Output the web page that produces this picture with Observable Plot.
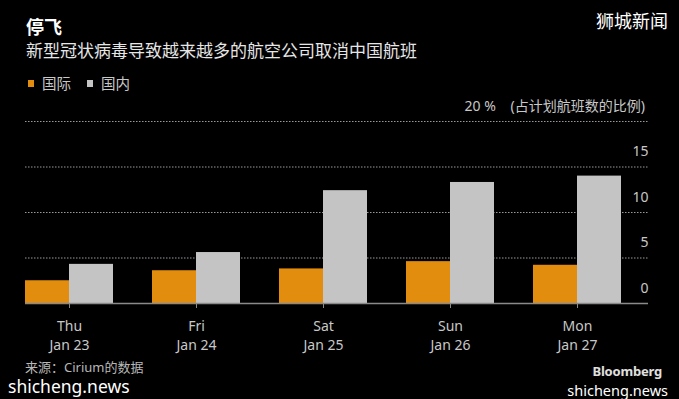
<!DOCTYPE html>
<html>
<head>
<meta charset="utf-8">
<script src="https://cdn.jsdelivr.net/npm/d3@7"></script>
<script src="https://cdn.jsdelivr.net/npm/@observablehq/plot@0.6"></script>
<style>
  html, body { margin: 0; padding: 0; background: #000; }
  #root { position: relative; width: 679px; height: 399px; overflow: hidden; background: #000;
          font-family: "Noto Sans", "Noto Sans CJK SC", sans-serif; }
  .abs { position: absolute; white-space: nowrap; line-height: 1; }
  #title { left: 26px; top: 18px; font-size: 18px; font-weight: bold; color: #fff; }
  #subtitle { left: 26px; top: 42px; font-size: 17px; color: #e6e6e6; }
  #brand { right: 11px; top: 12px; font-size: 18px; color: #fff; }
  #legend { left: 28px; top: 76px; font-size: 14.5px; color: #c8c8c8; display: flex; align-items: center; }
  #legend .sw { display: inline-block; width: 6px; height: 7px; margin-right: 8px; }
  #legend .item { display: flex; align-items: center; margin-right: 16px; }
  #chart { position: absolute; left: 0; top: 95px; }
  #source { left: 25px; top: 361px; font-size: 13px; color: #b8b8b8; }
  #wm1 { left: 8px; top: 378px; font-size: 17.5px; color: #fff; }
  #bb { right: 17px; top: 365px; font-size: 13px; font-weight: bold; color: #e0e0e0; letter-spacing: -0.2px; }
  #wm2 { right: 11px; top: 383px; font-size: 14.5px; color: #fff; }
</style>
</head>
<body>
<div id="root">
  <div id="title" class="abs">停飞</div>
  <div id="subtitle" class="abs">新型冠状病毒导致越来越多的航空公司取消中国航班</div>
  <div id="brand" class="abs">狮城新闻</div>
  <div id="legend" class="abs"></div>
  <div id="chart"></div>
  <div id="source" class="abs">来源：Cirium的数据</div>
  <div id="wm1" class="abs">shicheng.news</div>
  <div id="bb" class="abs">Bloomberg</div>
  <div id="wm2" class="abs">shicheng.news</div>
</div>
<script>
// ---- data ----
const weekdays = ["Thu", "Fri", "Sat", "Sun", "Mon"];
const dates = ["Jan 23", "Jan 24", "Jan 25", "Jan 26", "Jan 27"];
const seriesNames = ["国际", "国内"];
const international = [2.5, 3.6, 3.8, 4.6, 4.2];
const domestic = [4.3, 5.6, 12.4, 13.3, 14.0];
const yTicks = [0, 5, 10, 15, 20];
const yUnitLabel = "20\u00a0%\u00a0\u00a0\u00a0\u00a0(占计划航班数的比例)\u00a0";

const colors = ["#e28d0e", "#c4c4c4"];

// ---- legend ----
const legend = document.getElementById("legend");
seriesNames.forEach((name, i) => {
  const item = document.createElement("span");
  item.className = "item";
  item.innerHTML = `<span class="sw" style="background:${colors[i]}"></span>${name}`;
  legend.appendChild(item);
});

// ---- chart ----
const days = weekdays.map((w, i) => `${w}\n${dates[i]}`);
const rows = days.map((d, i) => ({day: d, intl: international[i], dom: domestic[i]}));

const chart = Plot.plot({
  width: 679,
  height: 262,
  marginTop: 26,
  marginBottom: 54,
  marginLeft: 25,
  marginRight: 31,
  style: {background: "transparent", color: "#c8c8c8", fontFamily: '"Noto Sans", "Noto Sans CJK SC", sans-serif', fontSize: "14px"},
  x: {type: "band", domain: days, paddingInner: 0.31, paddingOuter: 0.098, align: 0, axis: null, label: null},
  y: {domain: [0, 20], axis: null, label: null},
  marks: [
    Plot.gridY(yTicks.filter(t => t > 0), {stroke: "#9a9a9a", strokeOpacity: 1, strokeDasharray: "1.5,1.5"}),
    Plot.barY(rows, {x: "day", y: "intl", fill: colors[0], insetRight: 44}),
    Plot.barY(rows, {x: "day", y: "dom", fill: colors[1], insetLeft: 44}),
    Plot.ruleY([0], {stroke: "#8a8a8a", strokeWidth: 1.5}),
    Plot.axisX({tickSize: 5, tickPadding: 10, stroke: "#8a8a8a", fill: "#c8c8c8", lineHeight: 1.3, fontSize: 14, label: null}),
    Plot.axisY(yTicks, {anchor: "right", tickSize: 0, tickPadding: 0, textAnchor: "end", dy: -15, fill: "#c8c8c8", label: null,
      tickFormat: d => d === 20 ? yUnitLabel : String(d)})
  ]
});
document.getElementById("chart").appendChild(chart);
</script>
</body>
</html>
